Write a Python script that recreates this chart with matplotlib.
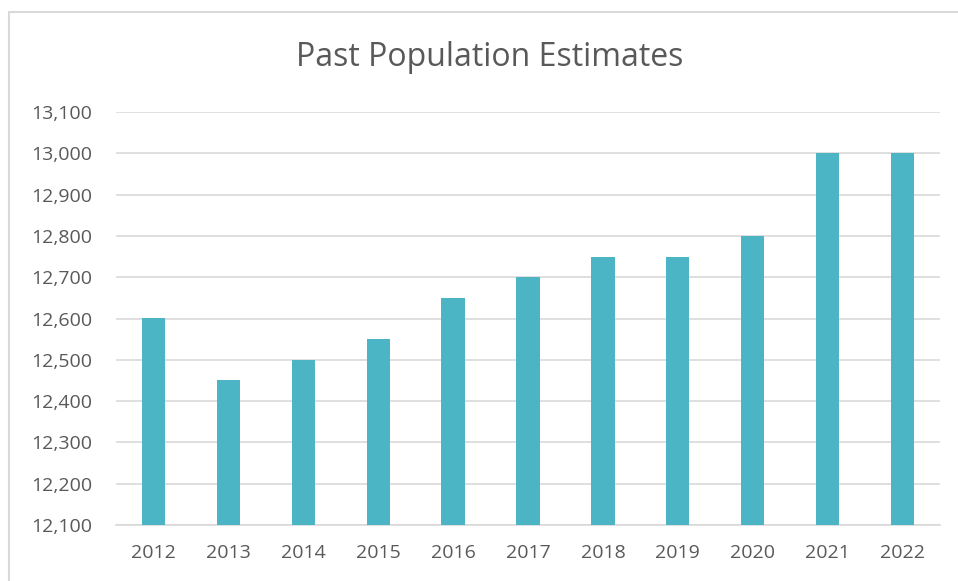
import matplotlib.pyplot as plt
from matplotlib.patches import Rectangle
from matplotlib.ticker import FuncFormatter

years = ["2012", "2013", "2014", "2015", "2016", "2017",
         "2018", "2019", "2020", "2021", "2022"]
population = [12600, 12450, 12500, 12550, 12650, 12700,
              12750, 12750, 12800, 13000, 13000]
y_ticks = [12100, 12200, 12300, 12400, 12500, 12600,
           12700, 12800, 12900, 13000, 13100]

plt.rcParams['font.family'] = ['Open Sans', 'DejaVu Sans']

fig = plt.figure(figsize=(9.58, 5.81), dpi=100)
W, H = 958, 581
ax = fig.add_axes([116 / W, 1 - 525 / H, (940 - 116) / W, (525 - 112) / H])

# chart border (light gray, runs off the right/bottom edge)
fig.patches.append(Rectangle((9 / W, -0.1), 1.2, 1 - 12 / H + 0.1,
                             transform=fig.transFigure, fill=False,
                             edgecolor="#D9D9D9", linewidth=1.5))

x = range(len(years))
ax.bar(x, [p - y_ticks[0] for p in population], bottom=y_ticks[0],
       width=0.31, color="#4BB5C5", zorder=3)

ax.set_xlim(-0.5, len(years) - 0.5)
ax.set_ylim(y_ticks[0], y_ticks[-1])
ax.set_yticks(y_ticks)
ax.yaxis.set_major_formatter(FuncFormatter(lambda v, p: f"{int(v):,}"))
ax.set_xticks(list(x))
ax.set_xticklabels(years)

ax.grid(axis="y", color="#D9D9D9", linewidth=1.2, zorder=0)
for s in ["top", "right", "left"]:
    ax.spines[s].set_visible(False)
ax.spines["bottom"].set_color("#D9D9D9")
ax.spines["bottom"].set_linewidth(1.2)
ax.tick_params(axis="both", length=0, labelsize=14, labelcolor="#595959")
ax.tick_params(axis="y", pad=17)
ax.tick_params(axis="x", pad=14)

fig.text(490 / W, 1 - 58 / H, "Past Population Estimates", ha="center",
         va="center", fontsize=23, color="#595959")

fig.savefig("out.png", dpi=100)
